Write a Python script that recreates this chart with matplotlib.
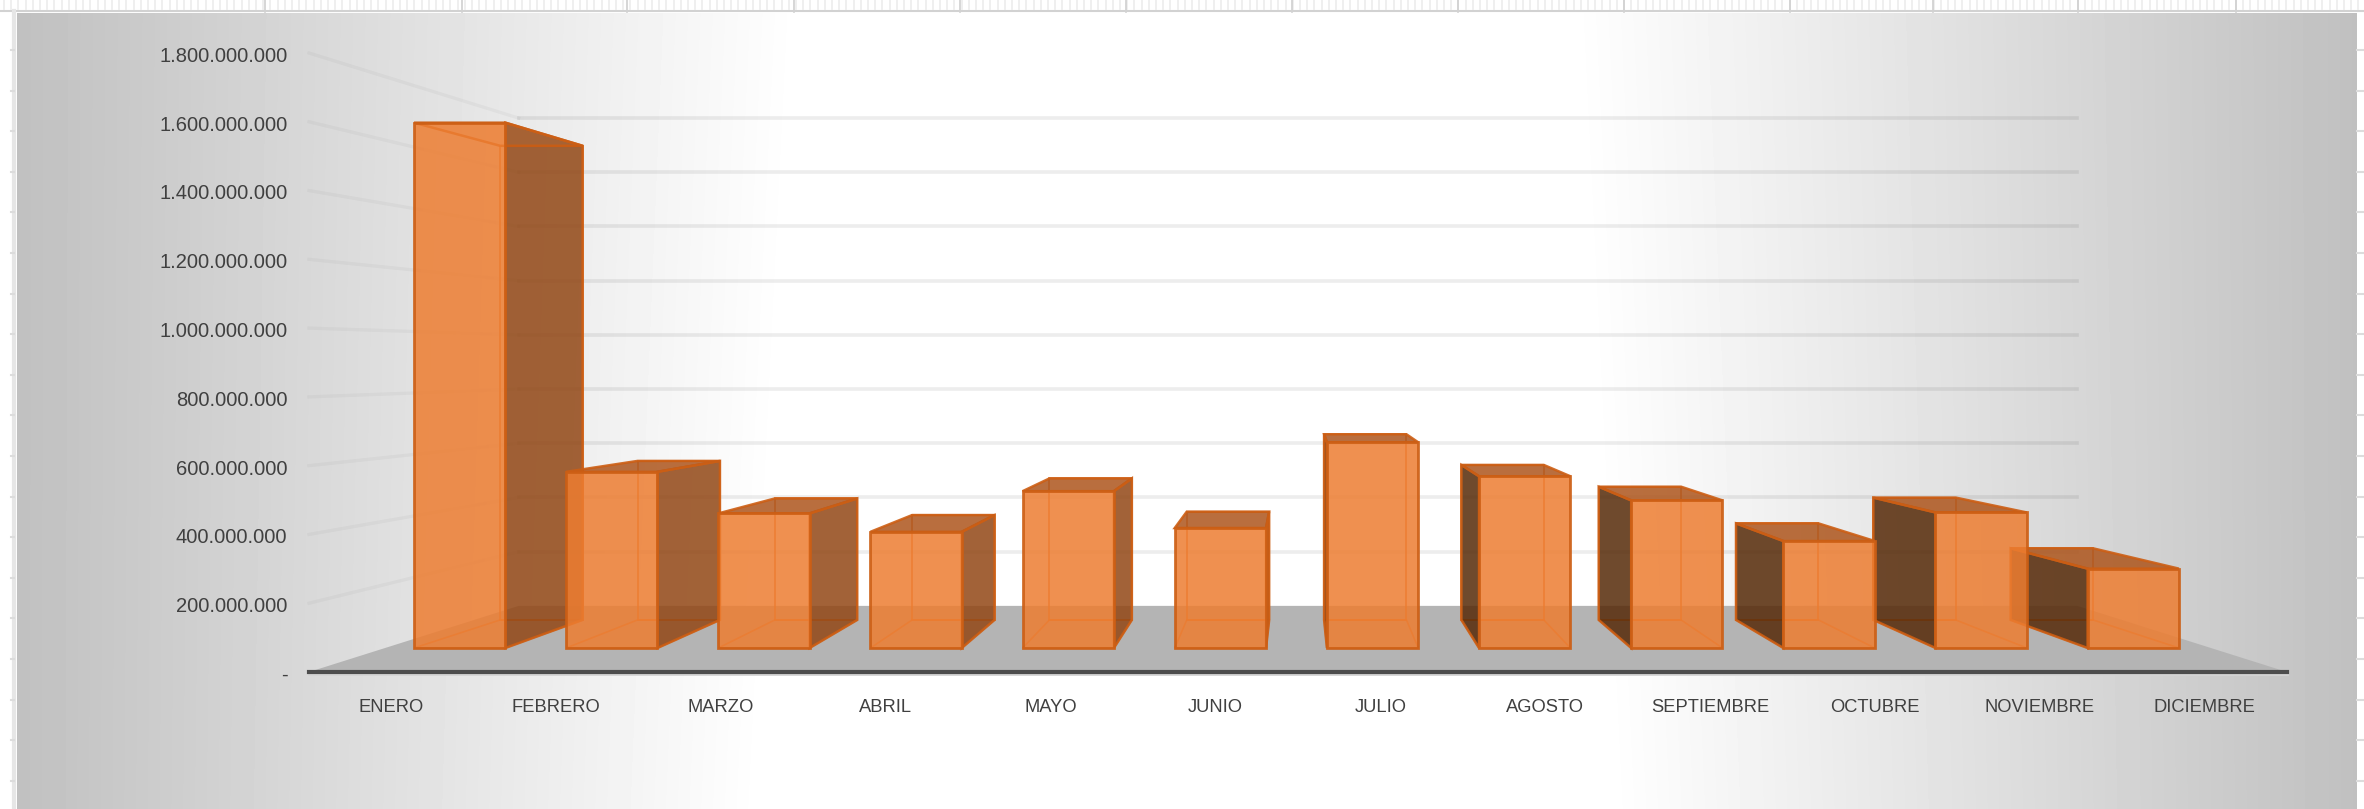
import numpy as np
import matplotlib
matplotlib.use('Agg')
import matplotlib.pyplot as plt
from matplotlib.patches import Polygon
from matplotlib.transforms import ScaledTranslation

# monthly values
meses = ['ENERO', 'FEBRERO', 'MARZO', 'ABRIL', 'MAYO', 'JUNIO', 'JULIO', 'AGOSTO',
         'SEPTIEMBRE', 'OCTUBRE', 'NOVIEMBRE', 'DICIEMBRE']
valores = [1655e6, 555e6, 424e6, 366e6, 494e6, 378e6, 648e6, 541e6, 465e6, 337e6, 427e6, 250e6]
ticks_y = [0, 200e6, 400e6, 600e6, 800e6, 1000e6, 1200e6, 1400e6, 1600e6, 1800e6]

W, H = 2364, 809
plt.rcParams['font.family'] = ['Liberation Sans', 'DejaVu Sans']

# perspective of the fake 3d: vanishing point in data coords and depth scales
VX, VY = 6.0, 907e6
S_WALL = 0.788
S_FRONT = 0.923
S_BACK = 0.833
ANCHO = 0.30

NARANJA = (0.929, 0.490, 0.192, 0.85)
BORDE = (0.80, 0.37, 0.08, 0.9)
BORDE_FINO = (0.90, 0.44, 0.13, 0.7)
LADO_DER = (0.573, 0.278, 0.082, 0.85)
LADO_IZQ = (0.337, 0.165, 0.031, 0.85)
TAPA = (0.678, 0.333, 0.110, 0.85)


def proy(x, v, s):
    return (VX + (x - VX) * s, VY + (v - VY) * s)


fig = plt.figure(figsize=(W / 100, H / 100), dpi=100, facecolor='white')

# sheet furniture and chart area background, in pixels
bg = fig.add_axes([0, 0, 1, 1])
bg.set_xlim(0, W)
bg.set_ylim(H, 0)
bg.axis('off')

for x in np.arange(4, W, 7.2):
    bg.plot([x, x], [0, 9], color='#ececec', lw=1.2)
for x in [265, 462, 627, 794, 960, 1126, 1292, 1458, 1624, 1790, 1933, 2078, 2236]:
    bg.plot([x, x], [0, 12], color='#cfcfcf', lw=1.2)
bg.plot([0, W], [11, 11], color='#d2d2d2', lw=1.5)
bg.plot([14, 14], [11, H], color='#e6e6e6', lw=3)
for y in np.arange(50, H, 40.6):
    bg.plot([11, 14], [y, y], color='#dcdcdc', lw=1.5)
    bg.plot([2357, W], [y, y], color='#dcdcdc', lw=1.5)

yy, xx = np.mgrid[13:H, 17:2357]
blanco = 385 + 0.05 * yy
t = np.clip((np.abs(xx - 1185) - blanco) / (1170 - blanco), 0, 1)
gris = 255 - 63 * t
bg.imshow(gris, extent=(17, 2357, H, 13), cmap='gray', vmin=0, vmax=255,
          aspect='auto', zorder=1, interpolation='bilinear')
bg.set_xlim(0, W)
bg.set_ylim(H, 0)

# front plane of the chart: everything below is in month / value coords
ax = fig.add_axes([309 / W, 1 - 672 / H, 1978 / W, 619 / H])
ax.patch.set_alpha(0)
ax.set_xlim(0, 12)
ax.set_ylim(0, 1800e6)
for s in ax.spines.values():
    s.set_visible(False)

# floor
ax.add_patch(Polygon([proy(0, 0, 1), proy(12, 0, 1), proy(12, 0, S_WALL), proy(0, 0, S_WALL)],
                     fc='#b4b4b4', ec='none', clip_on=False, zorder=1))

# gridlines, back wall and left wall
for v in ticks_y[1:]:
    x1, y1 = proy(0, v, 1)
    x2, y2 = proy(0, v, S_WALL)
    x3, y3 = proy(12, v, S_WALL)
    ax.plot([x1, x2], [y1, y2], color=(0, 0, 0, 0.03), lw=2.4, clip_on=False, zorder=0.5)
    ax.plot([x2, x3], [y2, y3], color=(0, 0, 0, 0.07), lw=2.6, clip_on=False, zorder=0.5)

# axis line
ax.plot([0, 12], [-5e6, -5e6], color='#d4d4d4', lw=2, clip_on=False, zorder=2)
ax.plot([0, 12], [0, 0], color='#4d4d4d', lw=3, clip_on=False, zorder=2.1)

# bars, farthest from the centre first so the inner ones sit on top
orden = sorted(range(len(valores)), key=lambda i: -abs(i + 0.5 - VX))
z = 3
for i in orden:
    xc = i + 0.49
    x0, x1 = xc - ANCHO, xc + ANCHO
    v = valores[i]
    # back and bottom, only the outline shows through
    ax.add_patch(Polygon([proy(x0, 0, S_BACK), proy(x1, 0, S_BACK), proy(x1, v, S_BACK), proy(x0, v, S_BACK)],
                         fc='none', ec=BORDE_FINO, lw=1.4, clip_on=False, zorder=z))
    ax.add_patch(Polygon([proy(x0, 0, S_FRONT), proy(x1, 0, S_FRONT), proy(x1, 0, S_BACK), proy(x0, 0, S_BACK)],
                         fc='none', ec=BORDE_FINO, lw=1.2, clip_on=False, zorder=z))
    # side face, whichever one the vanishing point lets us see
    if proy(x1, 0, S_FRONT)[0] < VX:
        lado, col = x1, LADO_DER
    else:
        lado, col = x0, LADO_IZQ
    ax.add_patch(Polygon([proy(lado, 0, S_FRONT), proy(lado, 0, S_BACK), proy(lado, v, S_BACK), proy(lado, v, S_FRONT)],
                         fc=col, ec=BORDE, lw=1.8, clip_on=False, zorder=z + 0.1))
    # top only shows when it is below the eye line, otherwise it is the underside
    ax.add_patch(Polygon([proy(x0, v, S_FRONT), proy(x1, v, S_FRONT), proy(x1, v, S_BACK), proy(x0, v, S_BACK)],
                         fc=TAPA if v < VY else (0.929, 0.490, 0.192, 0.1), ec=BORDE, lw=1.8, clip_on=False, zorder=z + 0.2))
    ax.add_patch(Polygon([proy(x0, 0, S_FRONT), proy(x1, 0, S_FRONT), proy(x1, v, S_FRONT), proy(x0, v, S_FRONT)],
                         fc=NARANJA, ec=BORDE, lw=2.0, clip_on=False, zorder=z + 0.3))
    z += 1

ax.set_xticks(np.arange(len(meses)) + 0.5)
ax.set_xticklabels(meses)
ax.set_yticks(ticks_y)
ax.set_yticklabels(['-' if v == 0 else f'{v:,.0f}'.replace(',', '.') for v in ticks_y])
ax.tick_params(axis='x', length=0, pad=19.5, labelsize=13.2, labelcolor='#404040')
ax.tick_params(axis='y', length=0, pad=15.5, labelsize=14.5, labelcolor='#404040')
baja = ScaledTranslation(0, -1 / 72, fig.dpi_scale_trans)
for lab in ax.get_yticklabels():
    lab.set_transform(lab.get_transform() + baja)

fig.savefig('out.png', dpi=100)
